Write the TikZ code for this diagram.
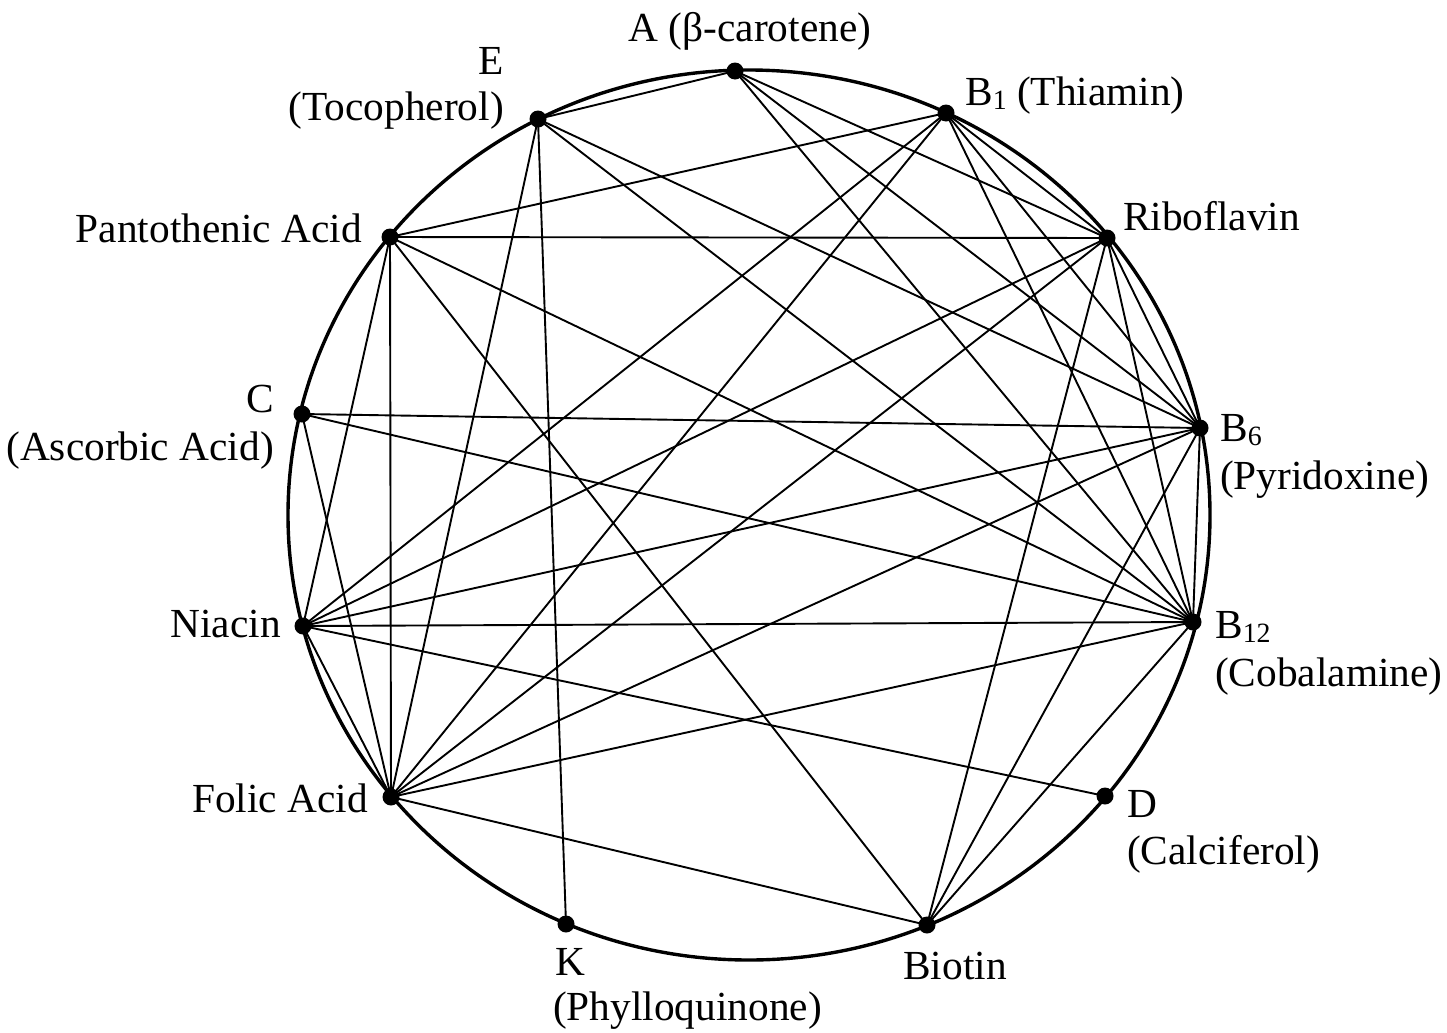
\documentclass[tikz,border=0pt]{standalone}
\usepackage{fontspec}
\setmainfont{Liberation Serif}
% lowered subscript for the B-vitamin numbers
\newcommand\vsub[1]{\raisebox{-0.25ex}{\fontsize{28}{28}\selectfont #1}}
\begin{document}
\begin{tikzpicture}[x=1bp,y=-1bp,
  vit/.style={circle,fill=black,inner sep=0pt,minimum size=17bp},
  lbl/.style={font=\fontsize{41.5}{47}\selectfont,inner sep=0pt},
  link/.style={line width=1.9bp,black}]
\useasboundingbox (0,0) rectangle (1447,1032);
% outer ring
\draw[line width=3.4bp] (749,515) ellipse [x radius=461, y radius=445];
% vitamins on the ring
\node[vit] (A)    at (735,71)  {};
\node[vit] (B1)   at (946,113) {};
\node[vit] (Rib)  at (1107,238) {};
\node[vit] (B6)   at (1200,428) {};
\node[vit] (B12)  at (1193,622) {};
\node[vit] (D)    at (1105,796) {};
\node[vit] (Bio)  at (927,925) {};
\node[vit] (K)    at (566,924) {};
\node[vit] (Fol)  at (391,797) {};
\node[vit] (Nia)  at (303,626) {};
\node[vit] (C)    at (302,414) {};
\node[vit] (Pan)  at (390,237) {};
\node[vit] (E)    at (538,119) {};
% interactions
\foreach \p/\q in {A/E, A/Rib, A/B6, A/B12,
  E/Fol, E/K, E/B12, E/B6,
  B1/Pan, B1/Nia, B1/Fol, B1/Rib, B1/B6, B1/B12,
  Pan/Rib, Pan/B12, Pan/Bio, Pan/Fol, Pan/Nia,
  C/B6, C/B12, C/Fol,
  Nia/Rib, Nia/B6, Nia/B12, Nia/D, Nia/Fol,
  Fol/Rib, Fol/B6, Fol/B12, Fol/Bio,
  Bio/Rib, Bio/B6, Bio/B12,
  B12/Rib, B12/B6, B6/Rib}
  \draw[link] (\p.center) -- (\q.center);
% names
\node[lbl,anchor=base] (lA) at (750,41) {A (β-carotene)};
\node[lbl,anchor=base west] (lB1) at (965,105) {B\vsub{1} (Thiamin)};
\node[lbl,anchor=base west] (lRib) at (1123,230) {Riboflavin};
\node[lbl,anchor=base west] (lB6) at (1220,441) {B\vsub{6}};
\node[lbl,anchor=base west] (lB6b) at (1220,489) {(Pyridoxine)};
\node[lbl,anchor=base west] (lB12) at (1215,638) {B\vsub{12}};
\node[lbl,anchor=base west] (lB12b) at (1215,686) {(Cobalamine)};
\node[lbl,anchor=base west] (lD) at (1127,817) {D};
\node[lbl,anchor=base west] (lDb) at (1127,864) {(Calciferol)};
\node[lbl,anchor=base] (lBio) at (955,979) {Biotin};
\node[lbl,anchor=base west] (lK) at (555,975) {K};
\node[lbl,anchor=base west] (lKb) at (553,1020) {(Phylloquinone)};
\node[lbl,anchor=base east] (lFol) at (368,812) {Folic Acid};
\node[lbl,anchor=base east] (lNia) at (281,637) {Niacin};
\node[lbl,anchor=base east] (lC) at (274,412) {C};
\node[lbl,anchor=base east] (lCb) at (274,460) {(Ascorbic Acid)};
\node[lbl,anchor=base east] (lPan) at (362,242) {Pantothenic Acid};
\node[lbl,anchor=base east] (lE) at (504,74) {E};
\node[lbl,anchor=base east] (lEb) at (504,120) {(Tocopherol)};
\end{tikzpicture}
\end{document}
